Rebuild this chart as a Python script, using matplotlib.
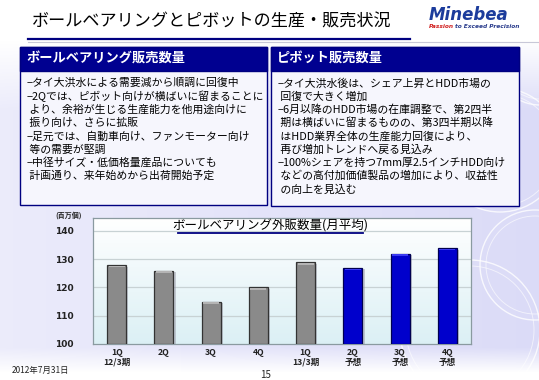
#!/usr/bin/env python
# -*- coding: utf-8 -*-
# Ball bearing / pivot slide - recreated with matplotlib

import numpy as np
import matplotlib
matplotlib.use('Agg')
from matplotlib import pyplot as plt
from matplotlib.patches import Rectangle, Circle

plt.rcParams['font.family'] = ['Noto Sans CJK JP', 'DejaVu Sans']

#-----------------------------------------------------------------------------------------
#                                        DATA
#-----------------------------------------------------------------------------------------
title = "ボールベアリングとピボットの生産・販売状況"
chart_title = "ボールベアリング外販数量(月平均)"
unit_label = "(百万個)"

quarters = ["1Q", "2Q", "3Q", "4Q", "1Q", "2Q", "3Q", "4Q"]
sub_labels = ["12/3期", "", "", "", "13/3期", "予想", "予想", "予想"]
volumes = [128, 126, 115, 120, 129, 127, 132, 134]
is_forecast = [False, False, False, False, False, True, True, True]
yticks = [100, 110, 120, 130, 140]

left_header = "ボールベアリング販売数量"
left_lines = [
    "−タイ大洪水による需要減から順調に回復中",
    "−2Qでは、ピボット向けが横ばいに留まることに",
    " より、余裕が生じる生産能力を他用途向けに",
    " 振り向け、さらに拡販",
    "−足元では、自動車向け、ファンモーター向け",
    " 等の需要が堅調",
    "−中径サイズ・低価格量産品についても",
    " 計画通り、来年始めから出荷開始予定",
]
right_header = "ピボット販売数量"
right_lines = [
    "−タイ大洪水後は、シェア上昇とHDD市場の",
    " 回復で大きく増加",
    "−6月以降のHDD市場の在庫調整で、第2四半",
    " 期は横ばいに留まるものの、第3四半期以降",
    " はHDD業界全体の生産能力回復により、",
    " 再び増加トレンドへ戻る見込み",
    "−100%シェアを持つ7mm厚2.5インチHDD向け",
    " などの高付加価値製品の増加により、収益性",
    " の向上を見込む",
]
date_text = "2012年7月31日"
page_no = "15"

W, H = 539, 380
NAVY = '#000080'

#-----------------------------------------------------------------------------------------
#                                     FIGURE
#-----------------------------------------------------------------------------------------
fig = plt.figure(figsize=(W / 100, H / 100), dpi=100)


def page_axes(zorder):
    a = fig.add_axes([0, 0, 1, 1])
    a.set_xlim(0, W)
    a.set_ylim(H, 0)
    a.axis('off')
    a.set_zorder(zorder)
    a.patch.set_visible(False)
    return a


bg = page_axes(0)    # background, title, text boxes
top = page_axes(2)   # overlay for chart title / unit label

# background: white top fading to lavender, white again at the bottom
yy, xx = np.mgrid[0:H, 0:W]
w = np.clip((yy - 40) / 70.0, 0, 1) * (0.55 + 0.45 * xx / W)
w = w * np.clip((372 - yy) / 25.0, 0, 1)
lav = np.array([0.86, 0.86, 0.97])
img = 1 - w[..., None] * (1 - lav)
bg.imshow(img, extent=[0, W, H, 0], aspect='auto', zorder=0)

# faint circles on the right
for cx, cy, r in [(500, 150, 62), (535, 265, 55), (470, 330, 70), (540, 60, 45)]:
    bg.add_patch(Circle((cx, cy), r, fill=False, ec='white', lw=1.0, alpha=0.8, zorder=1))
    bg.add_patch(Circle((cx, cy), r - 6, fill=False, ec='white', lw=0.7, alpha=0.6, zorder=1))

# title
bg.text(32, 22, title, fontsize=12.3, color='black', va='center', ha='left', zorder=3)
bg.plot([28, 410], [38.5, 38.5], color=NAVY, lw=1.6, zorder=3)
bg.plot([28, 539], [41.5, 41.5], color='#c8c8d8', lw=0.8, zorder=3)

# logo
bg.text(429, 15, "Minebea", fontsize=12, fontweight='bold', fontstyle='italic',
        color='#1c3c9c', va='center', ha='left', family='DejaVu Sans', zorder=3)
bg.text(429, 27, "Passion", fontsize=4.2, fontweight='bold', fontstyle='italic',
        color='#d02020', va='center', ha='left', family='DejaVu Sans', zorder=3)
bg.text(455, 27, "to Exceed Precision", fontsize=4.2, fontweight='bold', fontstyle='italic',
        color='#2a3c8c', va='center', ha='left', family='DejaVu Sans', zorder=3)


def text_box(x0, x1, y0, y1, header, lines):
    bg.add_patch(Rectangle((x0, y0), x1 - x0, y1 - y0, fc='#f6f6fd', ec=NAVY, lw=1.0, zorder=2))
    bg.add_patch(Rectangle((x0, y0), x1 - x0, 24, fc='#000090', ec=NAVY, lw=1.0, zorder=2))
    bg.text(x0 + 6, y0 + 12, header, fontsize=9.5, fontweight='bold', color='white',
            va='center', ha='left', zorder=3)
    for i, line in enumerate(lines):
        bg.text(x0 + 7, 83 + 13.3 * i, line, fontsize=7.8, color='black',
                va='center', ha='left', zorder=3)


text_box(20, 267, 47, 205, left_header, left_lines)
text_box(271, 519, 47, 206, right_header, right_lines)

# footer
bg.text(12, 370, date_text, fontsize=6, fontstyle='italic', color='#222222',
        va='center', ha='left', zorder=3)
bg.text(266, 375, page_no, fontsize=7, color='#222222', va='center', ha='center', zorder=3)

#-----------------------------------------------------------------------------------------
#                                     BAR CHART
#-----------------------------------------------------------------------------------------
px_l, px_r, px_t, px_b = 93, 471, 218, 344
ax = fig.add_axes([px_l / W, 1 - px_b / H, (px_r - px_l) / W, (px_b - px_t) / H])
ax.set_zorder(1)
ax.set_xlim(-0.5, len(volumes) - 0.5)
ax.set_ylim(100, 144.6)

# plot background gradient (light cyan to white)
grad = np.linspace(0, 1, 100)[:, None]
ctop = np.array([0.86, 0.94, 0.96])
pbg = ctop + grad[..., None] * (1 - ctop)
ax.imshow(pbg, extent=[-0.5, len(volumes) - 0.5, 144.6, 100], aspect='auto', zorder=0)

for v in yticks[1:]:
    ax.axhline(v, color='#c8d2d4', lw=0.9, zorder=1)

x = np.arange(len(volumes))
faces = ['#0000cc' if f else '#8a8a8a' for f in is_forecast]
edges = ['#000050' if f else '#333333' for f in is_forecast]
highlights = ['#3a3af0' if f else '#b4b4b4' for f in is_forecast]

# soft shadow, bars, top highlight
ax.bar(x + 0.05, np.array(volumes) - 100 - 0.6, bottom=100, width=0.4,
       color='#9a9aa8', alpha=0.5, zorder=2)
ax.bar(x, np.array(volumes) - 100, bottom=100, width=0.4, color=faces,
       edgecolor=edges, lw=0.9, zorder=3)
ax.bar(x, 0.6, bottom=np.array(volumes) - 0.9, width=0.34, color=highlights, lw=0, zorder=4)

ax.set_yticks(yticks)
ax.set_yticklabels([str(v) for v in yticks], fontsize=6.5, fontweight='bold',
                   family='DejaVu Sans')
ax.set_xticks(x)
ax.set_xticklabels([q + ("\n" + s if s else "") for q, s in zip(quarters, sub_labels)],
                   fontsize=6.2, fontweight='bold', linespacing=1.1, va='top')
ax.tick_params(axis='both', length=0, pad=3, colors='#222222')
ax.tick_params(axis='y', pad=14)
for s in ax.spines.values():
    s.set_color('#8a9aa0')
    s.set_linewidth(0.9)

# chart title and unit label (page coordinates)
top.text(270, 225.5, chart_title, fontsize=9, color='black', va='center', ha='center')
top.plot([178, 363], [233, 233], color=NAVY, lw=1.3)
top.text(69, 215, unit_label, fontsize=5, fontweight='bold', color='#222222',
         va='center', ha='center')

fig.savefig('out.png', dpi=100)
